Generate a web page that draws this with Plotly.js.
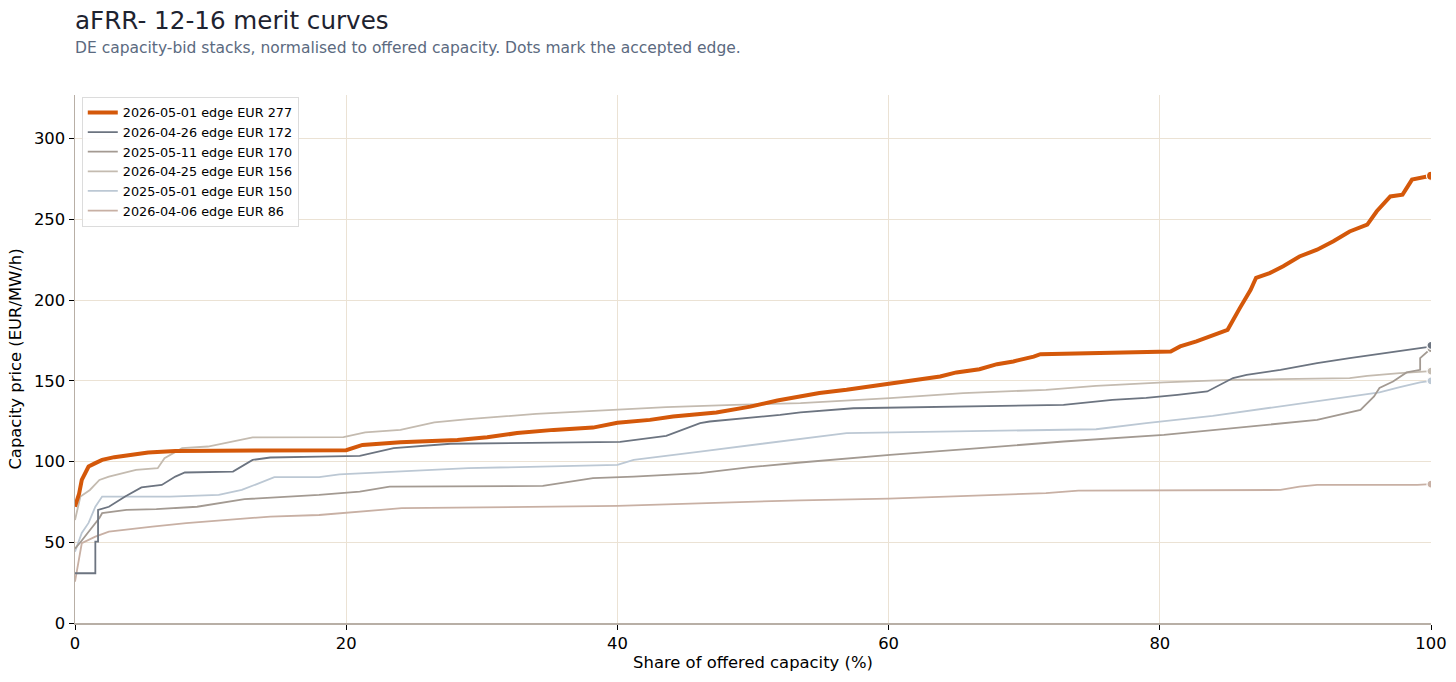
<!DOCTYPE html>
<html>
<head>
<meta charset="utf-8">
<script src="https://cdn.plot.ly/plotly-3.0.1.min.js"></script>
<style>
html,body{margin:0;padding:0;background:#fff;}
#chart{width:1456px;height:682px;}
</style>
</head>
<body>
<div id="chart"></div>
<script>
// ---- data ----
const seriesNames = [
  "2026-05-01 edge EUR 277",
  "2026-04-26 edge EUR 172",
  "2025-05-11 edge EUR 170",
  "2026-04-25 edge EUR 156",
  "2025-05-01 edge EUR 150",
  "2026-04-06 edge EUR 86"
];
const edgeShare = [100, 100, 100, 100, 100, 100];
const edgePrice = [277, 172, 170, 156, 150, 86];

const x_20260501 = [0,0.3,0.5,1,1.5,2,2.9,3.9,5.4,7.4,13,20,21.2,24,28.2,30.4,32.6,35.3,38.2,40,42.4,44.1,47.3,49.8,51.8,53.5,54.9,56.9,58.6,60.1,61.8,63.8,65,66.7,68,69.2,70.7,71.2,80.8,81.5,82.7,83.9,85,85.9,86.7,87.1,88.1,89.1,90.3,91.6,92.8,94,95.3,96,97,97.9,98.6,100];
const y_20260501 = [72,80,88.6,96.9,99,101,102.7,104,105.6,106.6,107,107,110.3,112,113.4,115,117.6,119.6,121,124,125.8,127.9,130.4,134,137.8,140.3,142.4,144.4,146.5,148.1,150.2,152.7,155.2,157.2,160.3,162,165,166.5,168.2,171.3,174.4,178.5,181.6,195,206.4,213.8,216.7,220.9,227,231.2,236.4,242.5,246.7,255,264.2,265.3,274.6,277];

const x_20260426 = [0,1.5,1.5,1.7,1.7,2.5,3.7,4.9,6.4,7.4,8.1,11.65,13.1,14.4,18,21,23.5,27.7,40.2,43.6,46.1,46.8,52,53.5,57.4,72.9,76.5,79,81.3,83.5,85.4,86.4,88.9,91.6,94,97.7,99.7,100];
const y_20260426 = [30.8,30.8,50.4,50.4,70,72,78.3,84,85.5,90.7,93.2,93.8,101,102.5,103,103.5,108.3,111,112.2,115.9,123.8,124.8,128.9,130.4,133,135.1,138.2,139.4,141.3,143.4,151.7,153.7,156.8,161,164,168.2,170.9,172];

const x_20250511 = [0,0.4,1.8,2,3.8,6,9,11.5,12.5,18,21,23.2,34.5,38.2,41.2,46.1,49.8,53.5,56.9,60.1,66.7,72.9,80.3,83.9,86.7,88.9,91.6,94.8,95.8,96.2,97.2,98.2,99.2,99.2,100];
const y_20250511 = [46,50,65,68,70,70.5,72,75.2,76.7,79.3,81.4,84.5,84.9,89.7,90.7,92.8,96.5,99.4,102,104.1,108.3,112.4,116.5,119.6,121.7,123.8,125.8,132,140.3,145.5,149.6,155.2,156.8,164,170];

const x_20260425 = [0,0.4,1.1,1.8,2.5,4.5,6.1,6.6,7.9,9.8,13.1,19.8,21.4,24,26.5,29,34,38.9,43.6,48.6,53.5,60.1,65.5,71.6,75.3,80.3,85.2,88.9,94,95.3,97.7,100];
const y_20260425 = [63.8,78.3,82.4,88.6,90.7,94.8,95.9,102,108.3,109.3,115,115.1,118,119.6,124.2,126.3,129.5,131.6,133.7,135.1,136.2,139.3,142.4,144.4,146.9,149,150.6,151,151.6,153,154.8,156];

const x_20250501 = [0,0.5,1,1.5,2,7,10.6,12.3,14.7,18,19.5,29,40,41.2,46.1,51,53.5,56.9,75.3,79,83.9,88.9,94,96.2,97.7,99.2,100];
const y_20250501 = [44.2,55.8,62,72,78.3,78.3,79.3,82.4,90.3,90.3,92.1,95.9,97.9,101,106.2,111.4,113.9,117.6,120,123.8,128.3,134.1,139.9,142.8,146.1,149,150];

const x_20260406 = [0,0.5,1.5,2.5,5.7,8.2,14.4,18,24.1,40,53.5,60,71.6,74,88.9,90.3,91.6,99,100];
const y_20260406 = [25.6,49.4,53.5,56.6,59.7,61.8,65.9,66.9,71.1,72.5,76,77,80.4,82,82.4,84.5,85.5,85.5,86];

const xTicks = [0, 20, 40, 60, 80, 100];
const yTicks = [0, 50, 100, 150, 200, 250, 300];

// ---- styles ----
const xs = [x_20260501, x_20260426, x_20250511, x_20260425, x_20250501, x_20260406];
const ys = [y_20260501, y_20260426, y_20250511, y_20260425, y_20250501, y_20260406];
const colors = ["#d4580a", "#6c7480", "#a39a92", "#c4bbb0", "#bcc8d4", "#c8b0a4"];
const widths = [4, 1.8, 1.8, 1.8, 1.8, 1.8];

const traces = [];
// thin ones first, highlighted last (on top)
for (let i = seriesNames.length - 1; i >= 0; i--) {
  traces.push({
    type: "scatter", mode: "lines",
    x: xs[i], y: ys[i], name: seriesNames[i],
    legendrank: i + 1,
    line: {color: colors[i], width: widths[i], shape: "linear"},
    hoverinfo: "skip"
  });
}
for (let i = seriesNames.length - 1; i >= 0; i--) {
  traces.push({
    type: "scatter", mode: "markers",
    x: [edgeShare[i]], y: [edgePrice[i]], showlegend: false,
    marker: {color: colors[i], size: i === 0 ? 9 : 8, line: {color: "#ffffff", width: 1.2}},
    hoverinfo: "skip"
  });
}

const fontFam = "DejaVu Sans, sans-serif";
const axisFont = {family: fontFam, size: 16.4, color: "#000"};
const layout = {
  width: 1456, height: 682,
  margin: {l: 75, r: 25, t: 95, b: 59},
  paper_bgcolor: "#ffffff", plot_bgcolor: "#ffffff",
  font: {family: fontFam, size: 15, color: "#000000"},
  showlegend: true,
  legend: {
    x: 0.005, y: 0.997, xanchor: "left", yanchor: "top",
    bgcolor: "rgba(255,255,255,0.9)", bordercolor: "#dcdcdc", borderwidth: 1,
    font: {family: fontFam, size: 12.8, color: "#000"},
    traceorder: "normal", itemwidth: 30, tracegroupgap: 0
  },
  xaxis: {
    range: [0, 100], tickvals: xTicks, ticktext: xTicks.map(String),
    showgrid: true, gridcolor: "#ebe2d4", gridwidth: 1,
    zeroline: false, showline: true, linecolor: "#b8afa6", linewidth: 1.5,
    ticks: "outside", ticklen: 5, tickwidth: 1, tickcolor: "#000",
    tickfont: axisFont,
    title: {text: "Share of offered capacity (%)", font: axisFont, standoff: 4}
  },
  yaxis: {
    range: [0, 327], tickvals: yTicks, ticktext: yTicks.map(String),
    showgrid: true, gridcolor: "#ebe2d4", gridwidth: 1,
    zeroline: false, showline: true, linecolor: "#b8afa6", linewidth: 1.5,
    ticks: "outside", ticklen: 5, tickwidth: 1, tickcolor: "#000",
    tickfont: axisFont,
    title: {text: "Capacity price (EUR/MW/h)", font: axisFont, standoff: 8}
  },
  annotations: [
    {text: "aFRR- 12-16 merit curves", xref: "paper", yref: "paper", x: 0, y: 1, yshift: 75, xshift: -2,
     xanchor: "left", yanchor: "middle", showarrow: false, font: {family: fontFam, size: 24.6, color: "#1e2330"}},
    {text: "DE capacity-bid stacks, normalised to offered capacity. Dots mark the accepted edge.",
     xref: "paper", yref: "paper", x: 0, y: 1, yshift: 47, xshift: -2, xanchor: "left", yanchor: "middle",
     showarrow: false, font: {family: fontFam, size: 15.5, color: "#5b6a80"}}
  ]
};

Plotly.newPlot("chart", traces, layout, {displayModeBar: false, staticPlot: true});
</script>
</body>
</html>
